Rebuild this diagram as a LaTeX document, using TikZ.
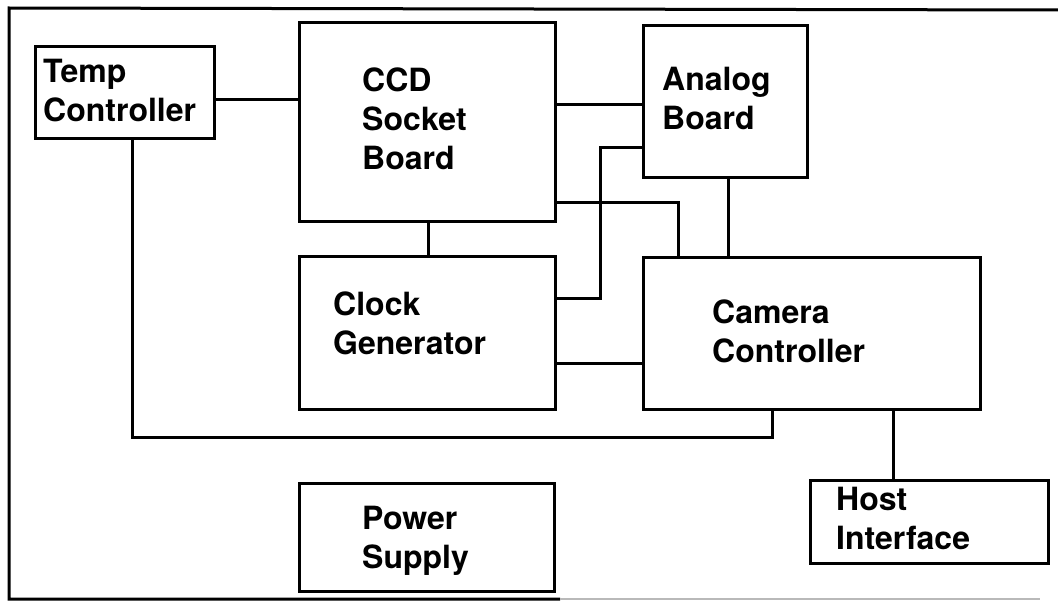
\documentclass[tikz,border=0pt]{standalone}
\usepackage{fontspec}
\setmainfont{TeX Gyre Heros}
\begin{document}
\begin{tikzpicture}[x=1pt,y=-1pt,
  box/.style={draw, line width=3.2pt, inner sep=0pt, anchor=north west},
  wire/.style={line width=3pt},
  frame/.style={line width=3pt},
  lbl/.style={font=\fontsize{32}{39}\selectfont\bfseries, align=left, inner sep=0pt, anchor=north west}]
\useasboundingbox (0,0) rectangle (1058,602);
% frame
\draw[frame] (1058,10) -- (9,8) -- (9,599) -- (560,599);
\draw[frame, gray!55, line width=2.4pt] (560,599) -- (1040,599);
% boxes
\node[box, minimum width=179pt, minimum height=92pt]  (temp)   at (34,45)   {};
\node[box, minimum width=256pt, minimum height=199pt] (ccd)    at (298,21)  {};
\node[box, minimum width=164pt, minimum height=152pt] (analog) at (642,24)  {};
\node[box, minimum width=256pt, minimum height=153pt] (clock)  at (298,255) {};
\node[box, minimum width=337pt, minimum height=152pt] (camera) at (642,256) {};
\node[box, minimum width=255pt, minimum height=108pt] (power)  at (298,482) {};
\node[box, minimum width=238pt, minimum height=83pt]  (host)   at (809,479) {};
% labels
\node[lbl] (tempL)   at (43,59)   {Temp\\Controller};
\node[lbl] (ccdL)    at (362,68)  {CCD\\Socket\\Board};
\node[lbl] (analogL) at (662,67)  {Analog\\Board};
\node[lbl] (clockL)  at (333,292) {Clock\\Generator};
\node[lbl] (cameraL) at (712,300) {Camera\\Controller};
\node[lbl] (powerL)  at (362,506) {Power\\Supply};
\node[lbl] (hostL)   at (836,487) {Host\\Interface};
% connectors
\draw[wire] (temp.east |- 0,99) -- (ccd.west |- 0,99);
\draw[wire] (ccd.east |- 0,104) -- (analog.west |- 0,104);
\draw[wire] (ccd.south -| 428,0) -- (clock.north -| 428,0);
\draw[wire] (analog.south -| 728,0) -- (camera.north -| 728,0);
\draw[wire] (ccd.east |- 0,202) -- (678,202) -- (camera.north -| 678,0);
\draw[wire] (clock.east |- 0,298) -- (600,298) -- (600,147) -- (analog.west |- 0,147);
\draw[wire] (clock.east |- 0,363) -- (camera.west |- 0,363);
\draw[wire] (temp.south -| 132,0) -- (132,437) -- (772,437) -- (camera.south -| 772,0);
\draw[wire] (camera.south -| 893,0) -- (host.north -| 893,0);
\end{tikzpicture}
\end{document}
